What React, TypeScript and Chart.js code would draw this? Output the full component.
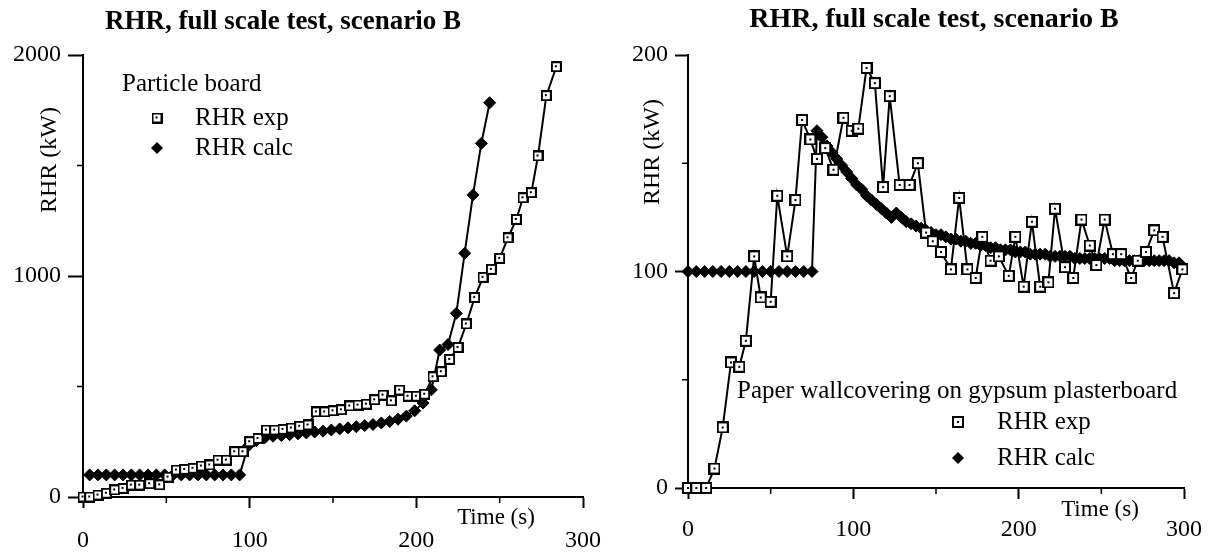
import React, { useEffect, useRef } from 'react';
import { Chart, registerables } from 'chart.js';
Chart.register(...registerables);

const FONT = '"Liberation Serif", "Times New Roman", serif';

const TITLE = 'RHR, full scale test, scenario B';
const Y_TITLE = 'RHR (kW)';
const X_TITLE = 'Time (s)';
const SERIES_EXP = 'RHR exp';
const SERIES_CALC = 'RHR calc';

// ---- Left panel: Particle board ----
const leftMaterial = 'Particle board';
const leftYTicks = [0, 1000, 2000];
const leftXTicks = [0, 100, 200, 300];
const leftExpTime = [0, 4, 9, 14, 19, 24, 29, 34, 40, 46, 51, 56, 61, 66, 71, 76, 81, 86, 91, 96, 100, 105, 110, 115, 120, 125, 130, 135, 140, 145, 150, 155, 160, 165, 170, 175, 180, 185, 190, 195, 200, 205, 210, 215, 220, 225, 230, 235, 240, 245, 250, 255, 260, 264, 269, 273, 278, 284];
const leftExpRHR = [0, 0, 9, 17, 32, 39, 54, 54, 60, 55, 90, 122, 125, 130, 140, 145, 167, 167, 205, 205, 250, 265, 303, 303, 306, 312, 320, 326, 385, 385, 390, 395, 412, 416, 420, 440, 461, 435, 484, 456, 456, 465, 544, 567, 623, 677, 783, 903, 994, 1030, 1080, 1173, 1256, 1354, 1377, 1543, 1816, 1947];
const leftCalcTime = [4, 9, 14, 19, 24, 29, 34, 39, 44, 49, 54, 59, 64, 69, 74, 79, 84, 89, 94, 99, 104, 109, 114, 119, 124, 129, 134, 139, 144, 149, 154, 159, 164, 169, 174, 179, 184, 189, 194, 199, 204, 209, 214, 219, 224, 229, 234, 239, 244];
const leftCalcRHR = [100, 100, 100, 100, 100, 100, 100, 100, 100, 100, 100, 100, 100, 100, 100, 100, 100, 100, 100, 230, 255, 268, 275, 278, 282, 286, 290, 294, 298, 303, 308, 313, 318, 323, 328, 335, 342, 352, 366, 390, 425, 485, 665, 690, 831, 1103, 1367, 1600, 1784];

// ---- Right panel: Paper wallcovering on gypsum plasterboard ----
const rightMaterial = 'Paper wallcovering on gypsum plasterboard';
const rightYTicks = [0, 100, 200];
const rightXTicks = [0, 100, 200, 300];
const rightExpTime = [0, 5, 11, 16, 21, 26, 31, 35, 40, 44, 50, 54, 60, 65, 69, 74, 78, 83, 88, 94, 99, 103, 108, 113, 118, 122, 128, 134, 139, 144, 148, 153, 159, 164, 169, 174, 178, 183, 188, 194, 198, 203, 208, 213, 218, 222, 228, 233, 238, 243, 247, 252, 257, 262, 268, 272, 277, 282, 287, 294, 299];
const rightExpRHR = [0, 0, 0, 9, 28, 58, 56, 68, 107, 88, 86, 135, 107, 133, 170, 161, 152, 157, 147, 171, 165, 166, 194, 187, 139, 181, 140, 140, 150, 118, 114, 109, 101, 134, 101, 97, 116, 105, 107, 98, 116, 93, 123, 93, 95, 129, 102, 97, 124, 112, 103, 124, 108, 108, 97, 105, 109, 119, 116, 90, 101];
const rightCalcTime = [0, 5, 10, 15, 20, 25, 30, 35, 40, 45, 50, 55, 60, 65, 70, 75, 78, 81, 84, 87, 90, 93, 96, 99, 102, 105, 108, 111, 114, 117, 120, 123, 126, 129, 132, 135, 138, 141, 144, 147, 150, 153, 156, 159, 162, 165, 168, 171, 174, 177, 180, 183, 186, 189, 192, 195, 198, 201, 204, 207, 210, 213, 216, 219, 222, 225, 228, 231, 234, 237, 240, 243, 246, 249, 252, 255, 258, 261, 264, 267, 270, 273, 276, 279, 282, 285, 288, 291, 294, 297];
const rightCalcRHR = [100, 100, 100, 100, 100, 100, 100, 100, 100, 100, 100, 100, 100, 100, 100, 100, 165, 162, 158, 155, 152, 149, 146, 143, 140, 138, 135, 133, 131, 129, 127, 125, 127, 125, 123, 122, 121, 120, 119, 118, 117, 117, 116, 115, 115, 114, 114, 113, 113, 112, 112, 111, 111, 110, 110, 110, 109, 109, 109, 108, 108, 108, 108, 107, 107, 107, 107, 107, 106, 106, 106, 106, 106, 106, 106, 106, 105, 105, 105, 105, 105, 105, 105, 105, 105, 105, 105, 105, 104, 104];

const H = 557;

type Spec = {
  left: number; width: number;
  areaLeft: number; areaRight: number; areaTop: number; areaBottom: number;
  yMax: number; yTicks: number[]; xTicks: number[]; yMinor: number[]; xMinor: number[];
  expT: number[]; expV: number[]; calcT: number[]; calcV: number[];
  titleX: number; titleY: number; titleSize: number;
  yTitleX: number; yTitleY: number;
  xTitleX: number; xTitleY: number;
  material: string; matX: number; matY: number;
  legMarkX: number; legTextX: number; legExpY: number; legCalcY: number;
  yTickLen: number; xPad: number; sq: number;
};

const leftSpec: Spec = {
  left: 0, width: 604,
  areaLeft: 83, areaRight: 583, areaTop: 55, areaBottom: 497,
  yMax: 2000, yTicks: leftYTicks, xTicks: leftXTicks, yMinor: [500, 1500], xMinor: [50, 150, 250],
  expT: leftExpTime, expV: leftExpRHR, calcT: leftCalcTime, calcV: leftCalcRHR,
  titleX: 283, titleY: 22, titleSize: 27,
  yTitleX: 50, yTitleY: 160,
  xTitleX: 496, xTitleY: 518,
  material: leftMaterial, matX: 122, matY: 84,
  legMarkX: 157, legTextX: 195, legExpY: 118, legCalcY: 148,
  yTickLen: 15, xPad: 18, sq: 11,
};

const rightSpec: Spec = {
  left: 604, width: 605,
  areaLeft: 688, areaRight: 1184, areaTop: 55, areaBottom: 488,
  yMax: 200, yTicks: rightYTicks, xTicks: rightXTicks, yMinor: [50, 150], xMinor: [50, 150, 250],
  expT: rightExpTime, expV: rightExpRHR, calcT: rightCalcTime, calcV: rightCalcRHR,
  titleX: 934, titleY: 20, titleSize: 28,
  yTitleX: 653, yTitleY: 152,
  xTitleX: 1100, xTitleY: 510,
  material: rightMaterial, matX: 737, matY: 391,
  legMarkX: 958, legTextX: 997, legExpY: 422, legCalcY: 458,
  yTickLen: 13, xPad: 16, sq: 12,
};

function makeSquare(size: number): HTMLCanvasElement {
  const c = document.createElement('canvas');
  c.width = size; c.height = size;
  const g = c.getContext('2d')!;
  g.fillStyle = '#000';
  g.fillRect(0, 0, size, size);
  g.fillStyle = '#fff';
  g.fillRect(2, 2, size - 4, size - 4);
  g.fillStyle = '#000';
  g.fillRect(Math.floor(size / 2) - 1, Math.floor(size / 2) - 1, 2, 2);
  return c;
}

function Panel({ spec }: { spec: Spec }) {
  const ref = useRef<HTMLCanvasElement>(null);
  useEffect(() => {
    const canvas = ref.current!;
    const sq = makeSquare(spec.sq);
    const off = spec.left;
    const deco = {
      id: 'deco',
      afterDraw(chart: any) {
        const ctx = chart.ctx as CanvasRenderingContext2D;
        const ca = chart.chartArea;
        ctx.save();
        ctx.fillStyle = '#000';
        ctx.strokeStyle = '#000';
        ctx.textBaseline = 'middle';
        // title
        ctx.textAlign = 'center';
        ctx.font = `bold ${spec.titleSize}px ${FONT}`;
        ctx.fillText(TITLE, spec.titleX - off, spec.titleY);
        // y title
        ctx.save();
        ctx.translate(spec.yTitleX - off, spec.yTitleY);
        ctx.rotate(-Math.PI / 2);
        ctx.font = `24px ${FONT}`;
        ctx.fillText(Y_TITLE, 0, 0);
        ctx.restore();
        // x title
        ctx.font = `23px ${FONT}`;
        ctx.fillText(X_TITLE, spec.xTitleX - off, spec.xTitleY);
        // minor ticks
        const xs = chart.scales.x, ys = chart.scales.y;
        ctx.lineWidth = 1.5;
        ctx.beginPath();
        for (const v of spec.yMinor) {
          const py = ys.getPixelForValue(v);
          ctx.moveTo(ca.left - 6, py); ctx.lineTo(ca.left, py);
        }
        for (const v of spec.xMinor) {
          const px = xs.getPixelForValue(v);
          ctx.moveTo(px, ca.bottom); ctx.lineTo(px, ca.bottom + 6);
        }
        ctx.stroke();
        // legend
        ctx.textAlign = 'left';
        ctx.font = `25px ${FONT}`;
        ctx.fillText(spec.material, spec.matX - off, spec.matY);
        ctx.drawImage(sq, spec.legMarkX - off - sq.width / 2, spec.legExpY - sq.height / 2);
        ctx.fillText(SERIES_EXP, spec.legTextX - off, spec.legExpY);
        const dx = spec.legMarkX - off, dy = spec.legCalcY, r = 6;
        ctx.beginPath();
        ctx.moveTo(dx, dy - r); ctx.lineTo(dx + r, dy); ctx.lineTo(dx, dy + r); ctx.lineTo(dx - r, dy);
        ctx.closePath(); ctx.fill();
        ctx.fillText(SERIES_CALC, spec.legTextX - off, spec.legCalcY);
        ctx.restore();
      },
    };
    const yWidth = spec.areaLeft - spec.left;
    const xHeight = H - spec.areaBottom;
    const chart = new Chart(canvas, {
      type: 'line',
      data: {
        datasets: [
          {
            label: SERIES_EXP,
            data: spec.expT.map((t, i) => ({ x: t, y: spec.expV[i] })),
            borderColor: '#000',
            borderWidth: 2,
            pointStyle: sq as any,
            pointRadius: spec.sq / 2,
            clip: false as any,
          },
          {
            label: SERIES_CALC,
            data: spec.calcT.map((t, i) => ({ x: t, y: spec.calcV[i] })),
            borderColor: '#000',
            borderWidth: 2,
            pointStyle: 'rectRot',
            pointRadius: 6,
            pointBackgroundColor: '#000',
            pointBorderColor: '#000',
            pointBorderWidth: 1,
            clip: false as any,
          },
        ],
      },
      options: {
        animation: false,
        responsive: false,
        devicePixelRatio: 1,
        layout: { padding: { left: 0, top: spec.areaTop, right: spec.left + spec.width - spec.areaRight, bottom: 0 } },
        plugins: { legend: { display: false }, title: { display: false }, tooltip: { enabled: false } },
        elements: { line: { tension: 0 } },
        scales: {
          x: {
            type: 'linear', min: 0, max: 300,
            afterFit: (s: any) => { s.height = xHeight; s.paddingLeft = 0; s.paddingRight = 0; },
            afterBuildTicks: (s: any) => { s.ticks = spec.xTicks.map((v) => ({ value: v })); },
            ticks: { color: '#000', font: { family: FONT, size: 24 }, padding: spec.xPad, maxRotation: 0, callback: (v: any) => String(v) },
            grid: { drawOnChartArea: false, drawTicks: true, tickLength: 11, tickColor: '#000', tickWidth: 2 },
            border: { display: true, color: '#000', width: 2 },
          },
          y: {
            type: 'linear', min: 0, max: spec.yMax,
            afterFit: (s: any) => { s.width = yWidth; s.paddingTop = 0; s.paddingBottom = 0; },
            afterBuildTicks: (s: any) => { s.ticks = spec.yTicks.map((v) => ({ value: v })); },
            ticks: { color: '#000', font: { family: FONT, size: 24 }, padding: 7, callback: (v: any) => String(v) },
            grid: { drawOnChartArea: false, drawTicks: true, tickLength: spec.yTickLen, tickColor: '#000', tickWidth: 2 },
            border: { display: true, color: '#000', width: 2 },
          },
        },
      } as any,
      plugins: [deco],
    });
    return () => chart.destroy();
  }, [spec]);
  return (
    <canvas
      ref={ref}
      width={spec.width}
      height={H}
      style={{ position: 'absolute', left: spec.left, top: 0, width: spec.width, height: H }}
    />
  );
}

export default function App() {
  return (
    <div style={{ position: 'absolute', left: 0, top: 0, width: 1209, height: H, background: '#fff', overflow: 'hidden' }}>
      <Panel spec={leftSpec} />
      <Panel spec={rightSpec} />
    </div>
  );
}
